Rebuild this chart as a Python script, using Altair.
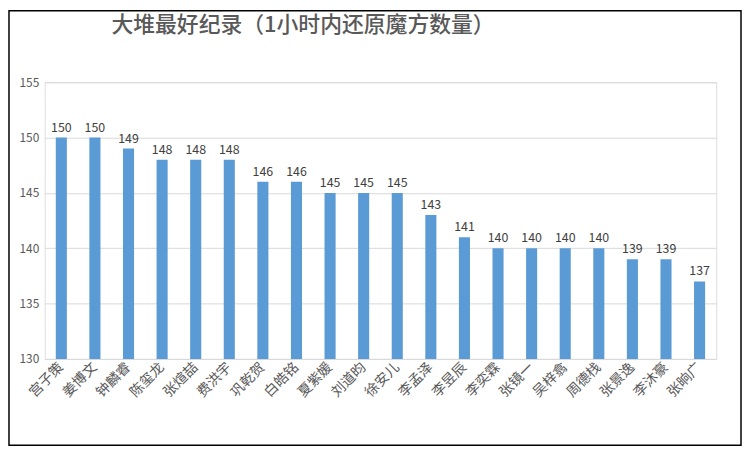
import altair as alt
import pandas as pd

names = ["宫子策", "姜博文", "钟麟睿", "陈玺龙", "张煊喆", "费洪宇", "巩乾贺", "白皓铭", "夏紫媛", "刘道昀",
         "徐安儿", "李孟泽", "李昱辰", "李奕霖", "张镜一", "吴梓翕", "周德栈", "张景逸", "李沐豪", "张晌广"]
counts = [150, 150, 149, 148, 148, 148, 146, 146, 145, 145,
          145, 143, 141, 140, 140, 140, 140, 139, 139, 137]
y_ticks = [130, 135, 140, 145, 150, 155]

df = pd.DataFrame({"name": names, "count": counts})

W, H = 677, 279
FONT = "Noto Sans CJK SC"

x_enc = alt.X("name:N", sort=names, title=None,
              scale=alt.Scale(paddingInner=0.67, paddingOuter=0.33),
              axis=alt.Axis(labelAngle=-45, labelAlign="right", labelBaseline="middle",
                            labelFont=FONT, labelFontSize=14, labelColor="#595959",
                            labelPadding=6, ticks=False, domainColor="#d9d9d9",
                            labelOverlap=False))
y_enc = alt.Y("count:Q", title=None,
              scale=alt.Scale(domain=[130, 155], nice=False, zero=False),
              axis=alt.Axis(values=y_ticks, grid=True, gridColor="#d9d9d9", domain=False,
                            ticks=False, labelFont=FONT, labelFontSize=12,
                            labelColor="#595959", labelPadding=6))

base = alt.Chart(df)
bars = base.mark_bar(color="#5b9bd5", clip=True).encode(x=x_enc, y=y_enc)
labels = base.mark_text(dy=-10, font=FONT, fontSize=12.5, color="#404040").encode(
    x=alt.X("name:N", sort=names), y="count:Q", text="count:Q")

frame = alt.Chart(alt.Data(values=[{}])).mark_rect(
    fill=None, stroke="#000000", strokeWidth=1.5).encode(
    x=alt.value(-36), x2=alt.value(702), y=alt.value(-72), y2=alt.value(366))

chart = alt.layer(bars, labels, frame).properties(
    width=W, height=H,
    title=alt.TitleParams("大堆最好纪录（1小时内还原魔方数量）", anchor="start", dx=104,
                          offset=-27, font=FONT, fontSize=22, fontWeight=500,
                          color="#595959"),
    padding={"left": 37, "top": 73, "right": 26, "bottom": 88},
    autosize=alt.AutoSizeParams(type="none"),
).configure_view(stroke=None).configure(background="#ffffff")

chart.save("out.html", embed_options={"renderer": "svg", "actions": False})
